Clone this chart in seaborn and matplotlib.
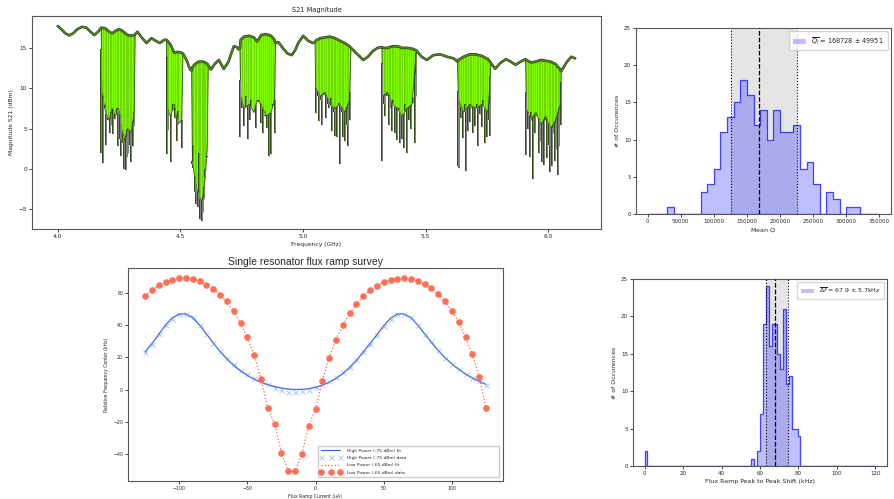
import numpy as np
import pandas as pd
import matplotlib
matplotlib.use("Agg")
import matplotlib.pyplot as plt
from matplotlib.patches import Patch
import seaborn as sns

sns.set_style("ticks")
plt.rcParams['font.family'] = ['DejaVu Sans']
plt.rcParams['axes.edgecolor'] = '#555555'
plt.rcParams['axes.linewidth'] = 0.8

N = np.nan

# S21 sweep: baseline (top of the trace) and lower edge of the resonator bands
s21_freq = [
    4.000, 4.015, 4.031, 4.047, 4.063, 4.079, 4.099, 4.117, 4.133, 4.149,
    4.165, 4.177, 4.180, 4.195, 4.210, 4.222, 4.235, 4.248, 4.260, 4.272,
    4.285, 4.300, 4.312, 4.316, 4.325, 4.342, 4.362, 4.382, 4.398, 4.416,
    4.435, 4.443, 4.447, 4.460, 4.475, 4.490, 4.505, 4.511, 4.525, 4.540,
    4.546, 4.549, 4.560, 4.575, 4.590, 4.602, 4.610, 4.614, 4.625, 4.640,
    4.657, 4.677, 4.695, 4.718, 4.730, 4.738, 4.743, 4.746, 4.760, 4.780,
    4.800, 4.813, 4.830, 4.850, 4.870, 4.884, 4.888, 4.900, 4.920, 4.937,
    4.954, 4.968, 4.981, 5.001, 5.020, 5.040, 5.049, 5.052, 5.070, 5.090,
    5.110, 5.130, 5.150, 5.170, 5.190, 5.196, 5.219, 5.246, 5.265, 5.285,
    5.305, 5.322, 5.325, 5.345, 5.365, 5.385, 5.405, 5.425, 5.445, 5.462,
    5.484, 5.505, 5.532, 5.560, 5.587, 5.614, 5.630, 5.634, 5.655, 5.680,
    5.705, 5.730, 5.755, 5.767, 5.784, 5.804, 5.827, 5.847, 5.867, 5.888,
    5.908, 5.911, 5.930, 5.950, 5.970, 5.990, 6.010, 6.030, 6.050, 6.053,
    6.075, 6.094, 6.110]
s21_top = [
    17.7, 17.3, 16.8, 16.55, 16.8, 17.3, 17.6, 17.5, 17.0, 16.6,
    17.0, 17.5, 17.5, 17.4, 17.0, 16.8, 17.1, 17.3, 17.2, 16.9,
    16.6, 16.5, 16.6, 16.7, 17.0, 16.3, 15.6, 16.2, 15.9, 15.6,
    16.0, 16.0, 15.9, 15.4, 14.4, 14.5, 14.4, 14.3, 13.5, 12.3,
    12.2, 12.6, 13.0, 13.3, 13.3, 13.2, 13.0, 12.8, 12.3, 13.0,
    13.5, 12.4, 13.2, 15.2, 15.1, 14.8, 15.0, 16.0, 16.4, 16.5,
    16.3, 15.8, 16.6, 16.7, 16.5, 16.0, 15.6, 15.7, 14.9, 14.3,
    14.1, 14.7, 15.6, 16.5, 15.9, 15.6, 15.7, 15.9, 16.2, 16.3,
    16.4, 16.2, 15.9, 15.6, 15.2, 15.0, 14.3, 13.5, 13.9, 14.6,
    15.0, 15.1, 15.0, 15.0, 15.2, 15.2, 15.0, 15.0, 14.9, 14.7,
    13.9, 13.5, 14.1, 14.2, 13.9, 13.7, 13.3, 13.5, 13.9, 14.2,
    14.2, 14.0, 13.6, 13.1, 12.4, 13.1, 13.6, 13.3, 12.9, 13.3,
    13.6, 13.5, 13.2, 13.3, 13.5, 13.4, 13.3, 13.0, 12.3, 12.1,
    13.2, 13.9, 13.7]
s21_floor = [
    N, N, N, N, N, N, N, N, N, N,
    N, 17.5, 9.5, 7.0, 6.0, 7.5, 6.5, 7.5, 5.0, 3.5,
    5.0, 4.5, 7.0, 16.7, N, N, N, N, N, N,
    N, 16.0, 7.5, 6.5, 8.0, 5.5, 6.0, 14.3, N, N,
    12.2, 1.0, -1.5, -3.5, -4.0, -1.0, 3.0, 12.8, N, N,
    N, N, N, N, N, N, 15.0, 9.0, 7.5, 8.0,
    7.0, 8.5, 8.0, 6.5, 7.0, 8.5, 15.6, N, N, N,
    N, N, N, N, N, N, 15.7, 10.0, 9.0, 9.5,
    8.0, 7.5, 8.0, 7.0, 8.5, 15.0, N, N, N, N,
    N, 15.1, 9.0, 9.5, 8.0, 7.5, 6.5, 7.5, 8.0, 14.7,
    N, N, N, N, N, N, 13.3, 8.5, 7.0, 8.0,
    7.5, 8.0, 7.0, 13.1, N, N, N, N, N, N,
    13.6, 7.5, 6.0, 7.0, 5.5, 6.5, 5.0, 6.0, 8.0, 12.1,
    N, N, N]

# resonator dips (frequency in GHz, minimum in dBm), one line per band
dip_freq = [
    4.178, 4.183, 4.192, 4.198, 4.205, 4.212, 4.218, 4.224, 4.232, 4.240, 4.247,
    4.252, 4.258, 4.265, 4.272, 4.277, 4.283, 4.288, 4.295, 4.300, 4.306, 4.312,
    4.444, 4.450, 4.462, 4.468, 4.478, 4.485, 4.492, 4.505,
    4.549, 4.553, 4.558, 4.565, 4.570, 4.576, 4.581, 4.587, 4.592, 4.597, 4.602, 4.607,
    4.745, 4.752, 4.760, 4.767, 4.775, 4.783, 4.790, 4.800, 4.808,
    4.822, 4.830, 4.838, 4.847, 4.855, 4.862, 4.868, 4.877, 4.884,
    5.052, 5.060, 5.066, 5.072, 5.078, 5.086, 5.094, 5.101, 5.107, 5.114, 5.120,
    5.127, 5.132, 5.139, 5.146, 5.152, 5.158, 5.164, 5.172, 5.178, 5.184, 5.191,
    5.323, 5.330, 5.336, 5.342, 5.349, 5.356, 5.362, 5.369, 5.376, 5.383, 5.390,
    5.397, 5.404, 5.411, 5.418, 5.425, 5.432, 5.440, 5.447, 5.455, 5.461,
    5.633, 5.638, 5.645, 5.652, 5.659, 5.666, 5.673, 5.680, 5.687, 5.694,
    5.701, 5.708, 5.715, 5.722, 5.729, 5.736, 5.743, 5.750, 5.757, 5.764,
    5.910, 5.917, 5.924, 5.931, 5.940, 5.947, 5.954, 5.961, 5.968, 5.975, 5.982,
    5.989, 5.995, 6.002, 6.008, 6.014, 6.020, 6.027, 6.033, 6.039, 6.046, 6.052]
dip_depth = [
    2.0, 0.7, 7.9, 2.9, 6.0, 4.5, 5.4, 4.3, 6.2, 7.5, 2.8,
    3.7, 1.6, 3.2, 0.0, -0.1, 1.5, 2.0, 3.0, 0.9, 2.8, 5.3,
    1.9, 4.8, 0.8, 8.0, 6.3, 3.5, 7.2, 2.6,
    0.6, 3.0, -2.9, -4.3, -4.7, 2.0, -6.2, -6.4, -5.4, -3.7, 0.0, 1.6,
    3.9, 7.5, 5.3, 9.0, 3.7, 6.1, 8.6, 7.0, 5.1,
    8.5, 5.7, 4.5, 6.5, 5.1, 1.6, 1.8, 8.0, 4.5,
    6.9, 9.0, 5.9, 8.5, 5.5, 9.2, 6.3, 8.0, 7.5, 8.8, 4.7,
    7.0, 4.1, 3.9, 8.2, 0.6, 7.1, 3.9, 3.4, 5.5, 2.8, 6.1,
    1.0, 8.0, 6.5, 9.0, 5.5, 7.5, 4.7, 8.5, 4.5, 3.6, 7.5,
    3.2, 3.7, 2.6, 8.0, 2.0, 6.0, 4.9, 8.2, 3.2, 9.0,
    0.3, 0.1, 6.3, 3.8, 8.0, -0.2, 4.7, 5.8, 7.5, 4.5,
    5.3, 8.0, 2.8, 6.8, 5.2, 8.5, 3.2, 3.9, 6.0, 4.1,
    1.7, 5.0, 1.5, 7.0, -1.3, 4.5, 6.5, 2.0, 3.5, 0.8, 0.5,
    6.0, 1.4, 3.0, -0.4, 0.4, 4.5, 1.0, 2.5, -0.7, 2.8, 5.5]

# Mean Qi histogram (bin width 10000)
qi_bin_left = [30000, 80000, 90000, 100000, 110000, 120000, 130000, 140000,
               150000, 160000, 170000, 180000, 190000, 200000, 210000, 220000,
               230000, 240000, 250000, 270000, 280000, 300000, 310000]
qi_counts = [1, 3, 4, 6, 11, 13, 15, 18, 16, 12, 14, 10, 14, 11, 11, 12,
             6, 7, 4, 3, 2, 1, 1]
qi_low, qi_mean, qi_high = 126000, 168728, 226000

# single resonator flux ramp
flux_current = [-125, -120, -115, -110, -105, -100, -95, -90, -85, -80, -75,
                -70, -65, -60, -55, -50, -45, -40, -35, -30, -25, -20, -15,
                -10, -5, 0, 5, 10, 15, 20, 25, 30, 35, 40, 45, 50, 55, 60,
                65, 70, 75, 80, 85, 90, 95, 100, 105, 110, 115, 120, 125]
high_data = [23.3, 28.0, 34.2, 39.8, 43.9, 47.0, 47.0, 45.0, 39.8, 34.6, 28.9,
             23.7, 19.6, 15.7, 12.4, 9.9, 7.4, 5.4, 3.7, 1.2, -0.4, -1.2, -1.6,
             -1.0, 0.0, 1.6, 3.3, 5.4, 7.8, 10.9, 14.0, 18.1, 23.3, 28.0, 33.6,
             39.4, 43.9, 47.0, 47.0, 45.0, 39.8, 34.6, 29.9, 24.3, 19.8, 16.1,
             12.8, 9.9, 7.4, 5.4, 3.1]
high_fit = [23.3, 28.5, 34.2, 40.0, 44.5, 46.8, 46.8, 44.5, 40.0, 34.5, 28.9,
            23.6, 19.0, 15.0, 11.6, 8.8, 6.5, 4.6, 3.1, 1.9, 1.0, 0.4, 0.1,
            0.2, 0.6, 1.5, 2.8, 4.6, 7.0, 10.0, 13.7, 18.2, 23.3, 28.5, 34.0,
            39.5, 44.2, 46.8, 46.8, 44.5, 40.0, 34.5, 29.2, 24.3, 19.8, 16.0,
            12.6, 9.7, 7.3, 5.2, 3.3]
low_data = [57.9, 61.4, 64.7, 66.6, 68.0, 68.9, 69.0, 68.2, 67.2, 65.0, 62.3,
            58.8, 54.6, 48.5, 41.2, 32.4, 21.2, 6.8, -11.5, -21.0, -39.0, -50.3,
            -50.5, -40.0, -22.3, -12.0, 5.4, 19.6, 31.0, 39.8, 47.2, 52.8, 58.0,
            61.9, 64.3, 66.6, 68.0, 68.7, 69.0, 68.5, 67.2, 65.4, 62.7, 59.2,
            54.6, 48.7, 41.9, 32.6, 22.0, 8.0, -11.3]

# flux ramp peak to peak shift histogram (bin width 1.5 kHz)
df_bin_left = [0.0, 55.5, 58.5, 60.0, 61.5, 63.0, 64.5, 66.0, 67.5, 69.0,
               70.5, 72.0, 73.5, 75.0, 76.5, 78.0, 79.5]
df_counts = [2, 1, 2, 7, 19, 24, 16, 19, 19, 15, 13, 21, 11, 12, 5, 5, 4]
df_low, df_mean, df_high = 63.0, 67.9, 74.4

W, H = 894, 499
fig = plt.figure(figsize=(W / 100, H / 100), dpi=100)


def box(x0, y0, x1, y1):
    return [x0 / W, 1 - y1 / H, (x1 - x0) / W, (y1 - y0) / H]


def style(ax, fs):
    ax.tick_params(labelsize=fs, length=2, width=0.6, pad=1.5)
    for s in ax.spines.values():
        s.set_visible(True)


def step_hist(ax, left, counts, width, hist_range):
    table = pd.DataFrame({'x': np.array(left) + width / 2, 'n': counts})
    sns.histplot(data=table, x='x', weights='n', binwidth=width,
                 binrange=hist_range, element='step', fill=True,
                 color='blue', alpha=0.25, edgecolor=(0, 0, 1, 0.7),
                 linewidth=0.9, ax=ax, zorder=2)


# ---- S21 magnitude ----
ax1 = fig.add_axes(box(32, 16, 601, 229))
freq = np.array(s21_freq)
top = np.array(s21_top)
floor = np.array(s21_floor)
inband = ~np.isnan(floor)
floor_line = np.where(inband, floor, top)
dip_top = np.interp(dip_freq, freq, top)
dip_floor = np.minimum(np.interp(dip_freq, freq, floor_line), dip_top)

ax1.fill_between(freq, floor_line, top, where=inband,
                 color='#7fff00', lw=0, zorder=1)
ax1.vlines(dip_freq, dip_floor, dip_top, colors='#3d6b10', lw=0.4,
           alpha=0.45, zorder=2)
ax1.plot(freq, np.where(inband, floor, np.nan), color='#2f5010', lw=0.6, zorder=2)
# spikes reaching below the green band: grey core with dark green edge
ax1.vlines(dip_freq, dip_depth, dip_floor, colors='#2f4a14', lw=1.4, zorder=3)
ax1.vlines(dip_freq, dip_depth, dip_floor, colors='#8e8e8e', lw=0.6, zorder=3)
sns.lineplot(x=s21_freq, y=s21_top, ax=ax1, color='#2a4010', lw=1.9,
             estimator=None, sort=False, zorder=4)
sns.lineplot(x=s21_freq, y=s21_top, ax=ax1, color='#5c8a2c', lw=0.9,
             estimator=None, sort=False, zorder=5)
ax1.set_xlim(3.895, 6.2155)
ax1.set_ylim(-7.45, 18.95)
ax1.set_xticks([4.0, 4.5, 5.0, 5.5, 6.0])
ax1.set_yticks([-5, 0, 5, 10, 15])
style(ax1, 4.2)
ax1.set_title('S21 Magnitude', fontsize=4.8, pad=3)
ax1.set_xlabel('Frequency (GHz)', fontsize=4.3, labelpad=2)
ax1.set_ylabel('Magnitude S21 (dBm)', fontsize=4.3, labelpad=3)

# ---- Mean Qi histogram ----
ax2 = fig.add_axes(box(636, 28, 891, 214))
ax2.axvspan(qi_low, qi_high, color='grey', alpha=0.2, lw=0, zorder=0)
step_hist(ax2, qi_bin_left, qi_counts, 10000, (0, 350000))
ax2.axvline(qi_mean, color='k', ls='--', lw=0.9, zorder=3)
ax2.axvline(qi_low, color='k', ls=':', lw=0.8, zorder=3)
ax2.axvline(qi_high, color='k', ls=':', lw=0.8, zorder=3)
ax2.set_xlim(-17500, 367500)
ax2.set_ylim(0, 25)
ax2.set_xticks(range(0, 350001, 50000))
style(ax2, 4.0)
ax2.set_xlabel('Mean $Q_i$', fontsize=4.5, labelpad=2)
ax2.set_ylabel('# of Occurences', fontsize=4.5, labelpad=3)
ax2.legend(handles=[Patch(facecolor=(0, 0, 1, 0.25), edgecolor='none')],
           labels=[r'$\overline{Q_i}$ = 168728 $\pm$ 49951'],
           loc='upper right', fontsize=4.7, borderpad=0.6, handlelength=2)

# ---- flux ramp survey ----
ax3 = fig.add_axes(box(128, 268, 503, 481))
sns.lineplot(x=flux_current, y=high_fit, ax=ax3, color='royalblue', lw=0.9,
             label='High Power (-75 dBm) fit')
ax3.plot(flux_current, high_data, ls='none', marker='x', color='cornflowerblue',
         alpha=0.5, ms=3.6, mew=0.7, label='High Power (-75 dBm) data')
sns.lineplot(x=flux_current, y=low_data, ax=ax3, color='tomato', lw=0.9,
             ls=':', label='Low Power (-65 dBm) fit')
ax3.plot(flux_current, low_data, ls='none', marker='o', color='tomato',
         alpha=0.9, ms=4.8, mew=0, label='Low Power (-65 dBm) data')
ax3.set_xlim(-137.5, 137.5)
ax3.set_ylim(-56.5, 75.3)
ax3.set_xticks([-100, -50, 0, 50, 100])
ax3.set_yticks([-40, -20, 0, 20, 40, 60])
style(ax3, 3.4)
ax3.set_title('Single resonator flux ramp survey', fontsize=7.5,
              family=['Liberation Sans', 'DejaVu Sans'], pad=2,
              x=(306 - 128) / 375)
ax3.set_xlabel('Flux Ramp Current (uA)', fontsize=3.3, labelpad=2)
ax3.set_ylabel('Relative Frequency Center (kHz)', fontsize=3.3, labelpad=3)
ax3.legend(loc='lower left', bbox_to_anchor=(0.501, 0.009, 0.494, 0.146),
           mode='expand', fontsize=3.2, numpoints=3, handlelength=4.8,
           handletextpad=1.2, borderpad=0.45, labelspacing=0.75,
           framealpha=1)

# ---- flux ramp peak to peak shift histogram ----
ax4 = fig.add_axes(box(633, 279, 887, 466))
ax4.axvspan(df_low, df_high, color='grey', alpha=0.2, lw=0, zorder=0)
step_hist(ax4, df_bin_left, df_counts, 1.5, (0, 120))
ax4.axvline(df_mean, color='k', ls='--', lw=0.9, zorder=3)
ax4.axvline(df_low, color='k', ls=':', lw=0.8, zorder=3)
ax4.axvline(df_high, color='k', ls=':', lw=0.8, zorder=3)
ax4.set_xlim(-6, 126)
ax4.set_ylim(0, 25)
ax4.set_xticks(range(0, 121, 20))
style(ax4, 4.0)
ax4.set_xlabel('Flux Ramp Peak to Peak Shift (kHz)', fontsize=4.5, labelpad=2)
ax4.set_ylabel('# of Occurences', fontsize=4.5, labelpad=3)
ax4.legend(handles=[Patch(facecolor=(0, 0, 1, 0.25), edgecolor='none')],
           labels=[r'$\overline{\Delta f}$ = 67.9 $\pm$ 5.7kHz'],
           loc='upper right', fontsize=4.5, borderpad=0.6, handlelength=2)

fig.savefig('out.png', dpi=100)
